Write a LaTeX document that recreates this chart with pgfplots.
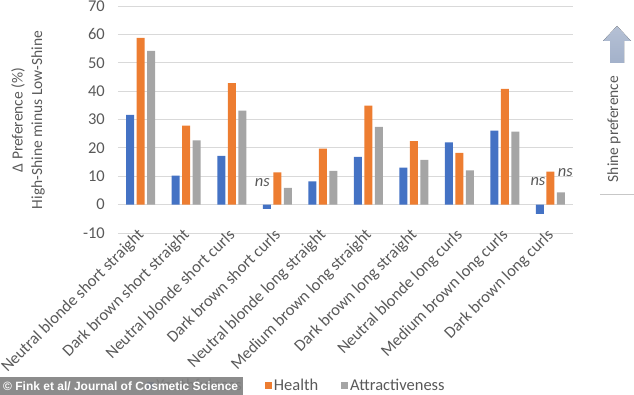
\documentclass[border=0pt]{standalone}
\usepackage{fontspec}
\setmainfont{Carlito}
\newfontfamily\arialf{Liberation Sans}
\usepackage{pgfplots}
\pgfplotsset{compat=1.18}
\definecolor{cblue}{HTML}{4472C4}
\definecolor{corange}{HTML}{ED7D31}
\definecolor{cgray}{HTML}{A5A5A5}
\definecolor{gridgray}{HTML}{D9D9D9}
\definecolor{txtgray}{HTML}{595959}
\definecolor{arrowc}{HTML}{A3B1CA}
\begin{document}
\begin{tikzpicture}
\begin{axis}[scale only axis,
  width=455pt, height=227pt,
  ymin=-10, ymax=70, ytick={-10,0,...,70},
  xmin=-0.5, xmax=9.5, enlargelimits=false,
  xtick={0,...,9},
  xticklabels={Neutral blonde short straight, Dark brown short straight, Neutral blonde short curls, Dark brown short curls, Neutral blonde long straight, Medium brown long straight, Dark brown long straight, Neutral blonde long curls, Medium brown long curls, Dark brown long curls},
  xticklabel style={rotate=45, anchor=north east, inner sep=0pt, xshift=4pt, yshift=10pt},
  yticklabel style={inner sep=0pt, xshift=-13pt},
  /pgf/number format/assume math mode=true,
  ybar=2.5pt, bar width=8pt,
  ymajorgrids, grid style={draw=gridgray, line width=0.8pt},
  axis line style={draw=none}, tick style={draw=none},
  font=\fontsize{16.5}{19}\selectfont,
  every tick label/.append style={text=txtgray},
  legend columns=3,
  legend style={draw=none, at={(0.064,-0.672)}, anchor=west, inner sep=0pt, font=\fontsize{16.5}{19}\selectfont, text=txtgray, /tikz/every even column/.append style={column sep=21pt}},
  legend image code/.code={\fill[#1] (0pt,-3.5pt) rectangle (7pt,3.5pt);},
]
\addplot[fill=cblue, draw=none] coordinates {(0,31.6) (1,10.2) (2,17.2) (3,-1.5) (4,8.2) (5,16.8) (6,13.0) (7,21.9) (8,26.1) (9,-3.3)};
\addplot[fill=corange, draw=none] coordinates {(0,58.8) (1,27.8) (2,42.8) (3,11.4) (4,19.7) (5,34.9) (6,22.4) (7,18.2) (8,40.8) (9,11.6)};
\addplot[fill=cgray, draw=none] coordinates {(0,54.2) (1,22.6) (2,33.1) (3,5.9) (4,11.9) (5,27.4) (6,15.8) (7,12.1) (8,25.7) (9,4.3)};
\legend{Youthfulness, Health, Attractiveness}
\node[font=\fontsize{16.5}{19}\selectfont\itshape, text=txtgray] at (axis cs:2.67,7.7) {ns};
\node[font=\fontsize{16.5}{19}\selectfont\itshape, text=txtgray] at (axis cs:8.73,8.2) {ns};
\node[font=\fontsize{16.5}{19}\selectfont\itshape, text=txtgray] at (axis cs:9.33,11.3) {ns};
\coordinate (O) at (rel axis cs:0,0);
\end{axis}
\begin{scope}[shift={(O)}, xshift=-118pt, yshift=-162pt, x=1pt, y=1pt]
\pgfresetboundingbox
\path[use as bounding box] (0,0) rectangle (634,395);
% y label
\node[rotate=90, font=\fontsize{15.5}{18}\selectfont, text=txtgray] at (18,275) {Δ Preference (\%)};
\node[rotate=90, font=\fontsize{15.5}{18}\selectfont, text=txtgray] at (38,275) {High-Shine minus Low-Shine};
% right annotation
\fill[top color=arrowc!80!white, bottom color=arrowc] (610,332) -- (624,332) -- (624,354) -- (631,354) -- (617,369) -- (603,354) -- (610,354) -- cycle;
\node[rotate=90, font=\fontsize{15.5}{18}\selectfont, text=txtgray] at (614,266) {Shine preference};
\draw[draw=gridgray!80!gray, line width=0.8pt] (600,201) -- (634,201);
% watermark
\fill[black!50, opacity=0.9] (0,0) rectangle (243,18);
\node[anchor=west, text=white, font=\arialf\bfseries\fontsize{12}{14}\selectfont, inner sep=0pt] at (3,9) {© Fink et al/ Journal of Cosmetic Science};
\end{scope}
\end{tikzpicture}
\end{document}
